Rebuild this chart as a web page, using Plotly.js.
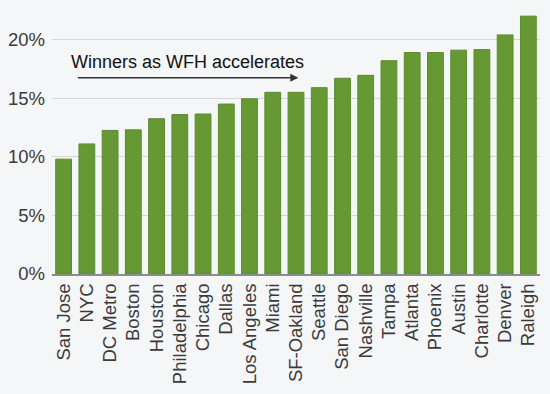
<!DOCTYPE html>
<html>
<head>
<meta charset="utf-8">
<script src="https://cdn.plot.ly/plotly-3.0.1.min.js"></script>
<style>html,body{margin:0;padding:0;background:#f5f6f8;}#chart{width:550px;height:394px;}</style>
</head>
<body>
<div id="chart"></div>
<script>
const cities = ["San Jose","NYC","DC Metro","Boston","Houston","Philadelphia","Chicago","Dallas","Los Angeles","Miami","SF-Oakland","Seattle","San Diego","Nashville","Tampa","Atlanta","Phoenix","Austin","Charlotte","Denver","Raleigh"];
const values = [9.8,11.1,12.25,12.3,13.25,13.6,13.65,14.5,14.95,15.5,15.5,15.9,16.7,16.95,18.2,18.9,18.9,19.1,19.15,20.4,22.0];
const yTicks = [0,5,10,15,20];
const yTickLabels = ["0%","5%","10%","15%","20%"];
const noteText = "Winners as WFH accelerates";

const trace = {
  type: 'bar', x: cities, y: values,
  marker: {color: '#669933', line: {color: '#5b8c2c', width: 1}},
  hoverinfo: 'x+y'
};
const layout = {
  width: 550, height: 394,
  margin: {l: 52, r: 10, t: 15, b: 120},
  paper_bgcolor: '#f5f6f8', plot_bgcolor: '#f5f6f8',
  font: {family: 'Liberation Sans, Arial, sans-serif', size: 18.5, color: '#3a3a3a'},
  bargap: 0.32,
  showlegend: false,
  xaxis: {tickangle: -90, showline: true, linecolor: '#8c8c8c', linewidth: 2, ticks: '', showgrid: false, fixedrange: true, automargin: false},
  yaxis: {range: [0, 22.1], tickmode: 'array', tickvals: yTicks, ticktext: yTickLabels, showgrid: true, gridcolor: '#d6d6d6', gridwidth: 1, zeroline: false, ticks: '', showline: false, automargin: false, ticklabelstandoff: 6},
  annotations: [
    {xref: 'x', yref: 'y', axref: 'x', ayref: 'y', x: 10.1, y: 16.75, ax: 0.55, ay: 16.75, text: '', showarrow: true, arrowhead: 2, arrowsize: 1, arrowwidth: 1.6, arrowcolor: '#333333'},
    {xref: 'x', yref: 'y', x: 0.25, xanchor: 'left', y: 18.1, text: noteText, showarrow: false, font: {size: 18, color: '#111111'}}
  ]
};
Plotly.newPlot('chart', [trace], layout, {displayModeBar: false, staticPlot: true});
</script>
</body>
</html>
